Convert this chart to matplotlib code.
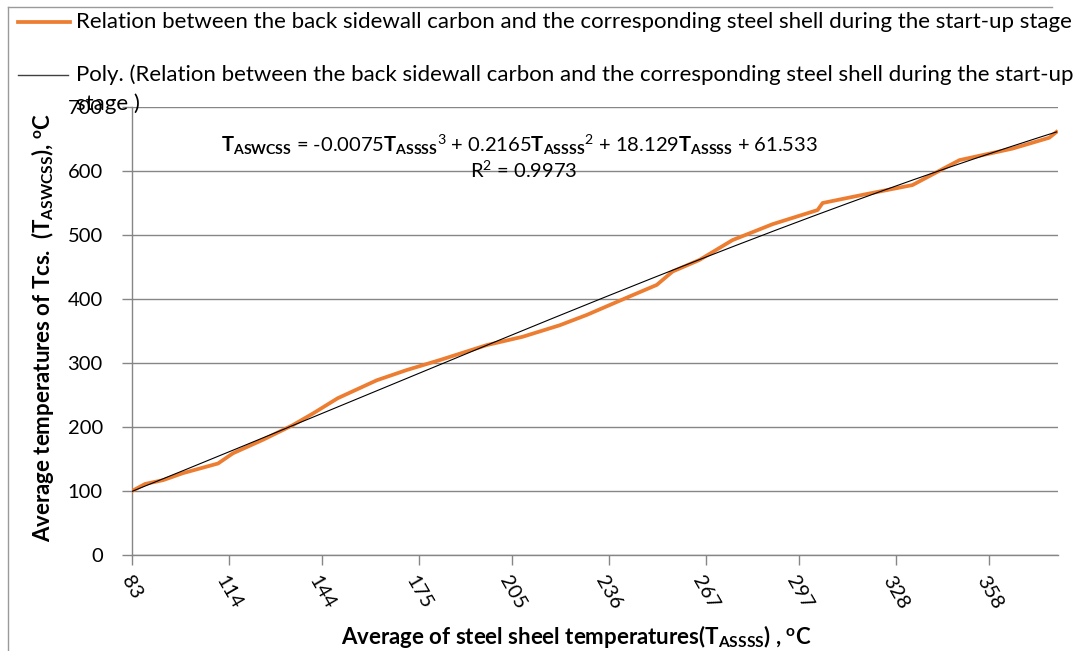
import matplotlib
matplotlib.use("Agg")
import matplotlib.pyplot as plt
import numpy as np
from matplotlib.lines import Line2D

# Data
steel_shell = [83, 87.2, 93, 99.4, 110.6, 115.4, 125, 134.6, 141, 149, 161.5, 171.1,
               182, 196.8, 208.3, 220.2, 228.8, 242.6, 251.3, 256.4, 265, 275.6,
               288.5, 302.9, 304.5, 318.6, 333.3, 348.4, 365.4, 377.2, 379.5]
carbon = [100, 111, 117, 128, 143, 159, 180, 203, 221, 245, 273, 289,
          305, 328, 341, 359, 375, 404, 422, 443, 461, 492,
          517, 539, 550, 564, 578, 617, 635, 652, 661]
x_ticks = [83, 114, 144, 175, 205, 236, 267, 297, 328, 358]
y_ticks = [0, 100, 200, 300, 400, 500, 600, 700]

series_label = "Relation between the back sidewall carbon and the corresponding steel shell during the start-up stage"
trend_label_1 = "Poly. (Relation between the back sidewall carbon and the corresponding steel shell during the start-up"
trend_label_2 = "stage )"

FONT = "Lato"
plt.rcParams['font.family'] = [FONT, 'DejaVu Sans']
plt.rcParams['mathtext.fontset'] = 'custom'
plt.rcParams['mathtext.rm'] = FONT
plt.rcParams['mathtext.it'] = FONT
plt.rcParams['mathtext.bf'] = FONT + ':bold'

W, H = 1080, 651
fig = plt.figure(figsize=(W / 100, H / 100), dpi=100)
L, R, T, B = 132, 1058, 107, 555
ax = fig.add_axes([L / W, 1 - B / H, (R - L) / W, (B - T) / H])

grid_c = "#868686"
orange = "#ED7D31"

xs = np.array(steel_shell)
ys = np.array(carbon)
ax.plot(xs, ys, color=orange, lw=2.7, solid_joinstyle='round', zorder=3)
coef = np.polyfit(xs, ys, 3)
xf = np.linspace(xs.min(), xs.max(), 300)
ax.plot(xf, np.polyval(coef, xf), color="black", lw=0.8, zorder=4)

ax.set_xlim(83, 380)
ax.set_ylim(0, 700)
ax.set_xticks(x_ticks)
ax.set_xticklabels([str(v) for v in x_ticks], rotation=-60, ha='center', va='top',
                   rotation_mode='default', fontsize=14.5)
ax.set_yticks(y_ticks)
ax.set_yticklabels([str(v) for v in y_ticks], fontsize=14.5)
ax.tick_params(axis='x', length=7, color=grid_c, width=1, pad=6)
ax.tick_params(axis='y', length=7, color=grid_c, width=1, pad=14)
ax.yaxis.grid(True, color=grid_c, lw=1)
ax.set_axisbelow(True)
for s in ['top', 'right']:
    ax.spines[s].set_visible(False)
for s in ['left', 'bottom']:
    ax.spines[s].set_color(grid_c)
    ax.spines[s].set_linewidth(1)

# Equation and R^2
eq = (r"$\mathbf{T_{ASWCSS}}$ = -0.0075$\mathbf{T_{ASSSS}}^{3}$ + 0.2165$\mathbf{T_{ASSSS}}^{2}$"
      r" + 18.129$\mathbf{T_{ASSSS}}$ + 61.533")
fig.text(519 / W, 1 - 145 / H, eq, ha='center', va='center', fontsize=14.5)
fig.text(524 / W, 1 - 170 / H, r"R$^{2}$ = 0.9973", ha='center', va='center', fontsize=14.5)

# Axis titles
fig.text(43 / W, 1 - 327 / H, r"Average temperatures of Tcs.  (T$_{\mathbf{ASWCSS}}$), $^{\mathbf{o}}$C",
         rotation=90, ha='center', va='center', fontsize=16, fontweight='bold')
fig.text(576 / W, 1 - 636 / H, r"Average of steel sheel temperatures(T$_{\mathbf{ASSSS}}$) , $^{\mathbf{o}}$C",
         ha='center', va='center', fontsize=16, fontweight='bold')

# Legend (manual)
fig.add_artist(Line2D([18 / W, 70 / W], [1 - 22 / H, 1 - 22 / H], color=orange, lw=2.7,
                      transform=fig.transFigure))
fig.text(76 / W, 1 - 22 / H, series_label, ha='left', va='center', fontsize=16)
fig.add_artist(Line2D([18 / W, 68 / W], [1 - 75 / H, 1 - 75 / H], color="#404040", lw=1,
                      transform=fig.transFigure))
fig.text(76 / W, 1 - 75 / H, trend_label_1, ha='left', va='center', fontsize=16)
fig.text(76 / W, 1 - 104 / H, trend_label_2, ha='left', va='center', fontsize=16)

# Chart area border (left and top)
fig.add_artist(Line2D([8 / W, 8 / W], [0, 1 - 7 / H], color="#9a9a9a", lw=1, transform=fig.transFigure))
fig.add_artist(Line2D([8 / W, 1052 / W], [1 - 7 / H, 1 - 7 / H], color="#9a9a9a", lw=1, transform=fig.transFigure))

fig.savefig("out.png", dpi=100)
